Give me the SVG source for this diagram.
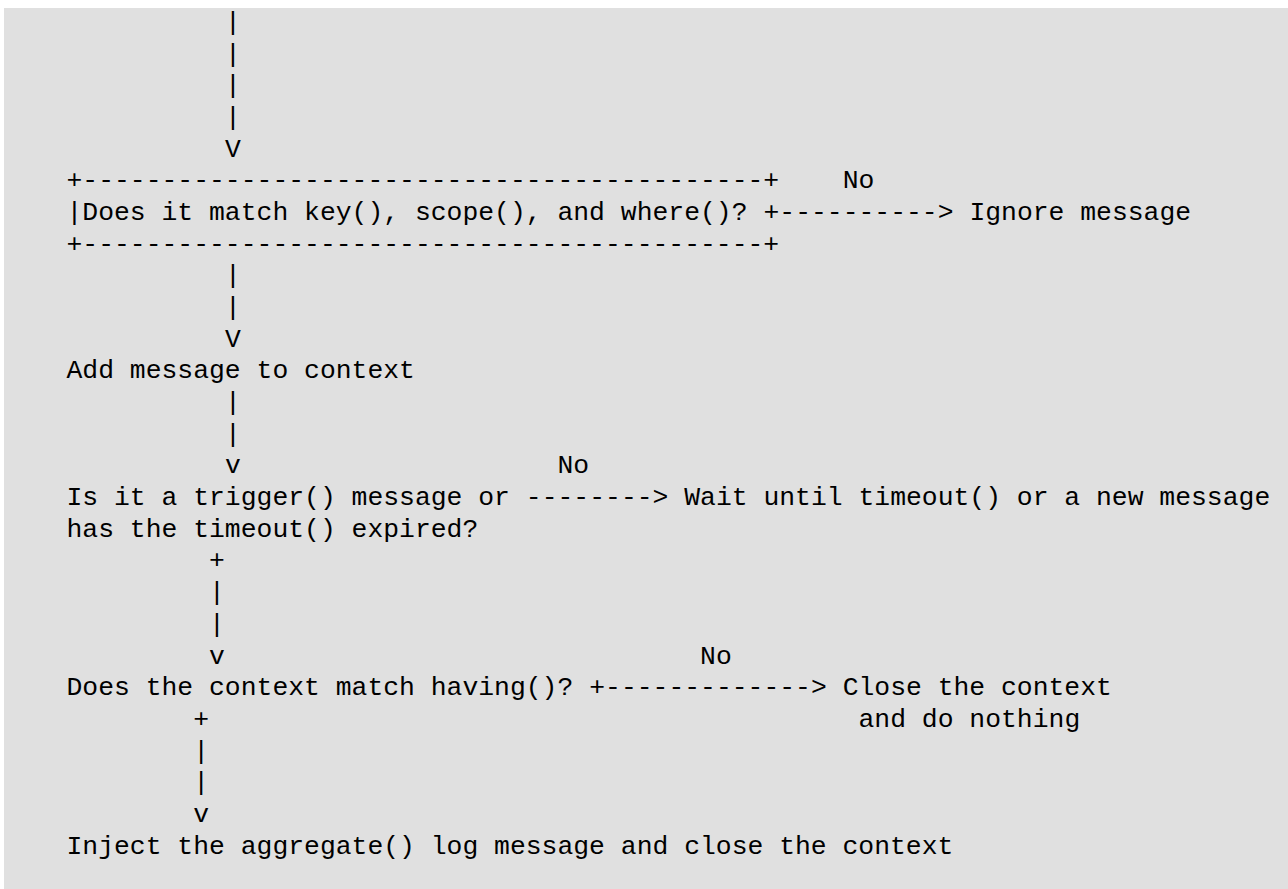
<svg xmlns="http://www.w3.org/2000/svg" width="1288" height="889" viewBox="0 0 1288 889">
<style>
text{font-family:"Liberation Mono","DejaVu Sans Mono",monospace;font-size:26.4px;fill:#000;white-space:pre}
</style>
<rect x="0" y="0" width="1288" height="889" fill="#ffffff"/>
<rect x="4" y="8" width="1284" height="881" fill="#e0e0e0"/>
<g id="connectors">
<text x="224.9" y="29.92">|</text>
<text x="224.9" y="61.6">|</text>
<text x="224.9" y="93.28">|</text>
<text x="224.9" y="124.96">|</text>
<text x="224.9" y="156.64">V</text>
<text x="842.66" y="188.32">No</text>
<text x="763.46" y="220">+----------&gt;</text>
<text x="224.9" y="283.36">|</text>
<text x="224.9" y="315.04">|</text>
<text x="224.9" y="346.72">V</text>
<text x="224.9" y="410.08">|</text>
<text x="224.9" y="441.76">|</text>
<text x="224.9" y="473.44">v</text>
<text x="557.54" y="473.44">No</text>
<text x="525.86" y="505.12">--------&gt;</text>
<text x="209.06" y="568.48">+</text>
<text x="209.06" y="600.16">|</text>
<text x="209.06" y="631.84">|</text>
<text x="209.06" y="663.52">v</text>
<text x="700.1" y="663.52">No</text>
<text x="589.22" y="695.2">+-------------&gt;</text>
<text x="193.22" y="726.88">+</text>
<text x="193.22" y="758.56">|</text>
<text x="193.22" y="790.24">|</text>
<text x="193.22" y="821.92">v</text>
</g>
<g id="node-match">
<text x="66.5" y="188.32">+-------------------------------------------+</text>
<text x="66.5" y="220">|Does it match key(), scope(), and where()?</text>
<text x="66.5" y="251.68">+-------------------------------------------+</text>
</g>
<g id="node-ignore">
<text x="969.38" y="220">Ignore message</text>
</g>
<g id="node-add">
<text x="66.5" y="378.4">Add message to context</text>
</g>
<g id="node-trigger">
<text x="66.5" y="505.12">Is it a trigger() message or</text>
<text x="66.5" y="536.8">has the timeout() expired?</text>
</g>
<g id="node-wait">
<text x="684.26" y="505.12">Wait until timeout() or a new message</text>
</g>
<g id="node-having">
<text x="66.5" y="695.2">Does the context match having()?</text>
</g>
<g id="node-close">
<text x="842.66" y="695.2">Close the context</text>
<text x="858.5" y="726.88">and do nothing</text>
</g>
<g id="node-inject">
<text x="66.5" y="853.6">Inject the aggregate() log message and close the context</text>
</g>
</svg>
